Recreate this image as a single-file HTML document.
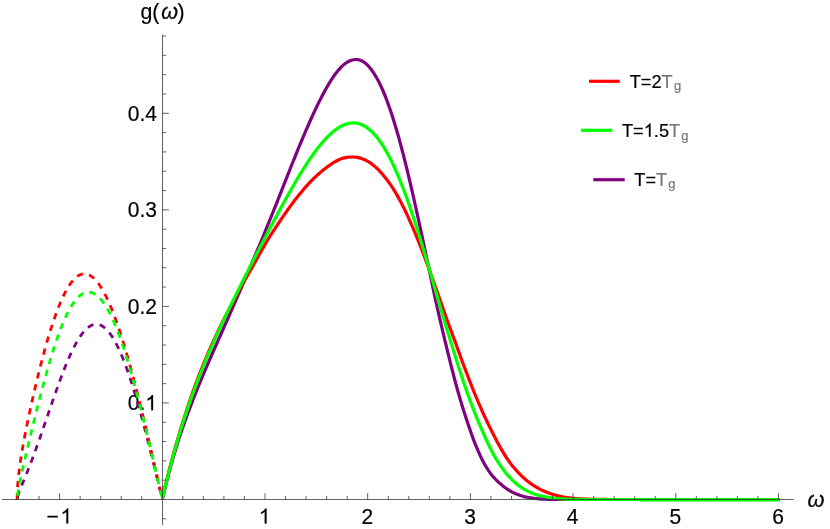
<!DOCTYPE html>
<html><head><meta charset="utf-8"><title>g(omega)</title>
<style>html,body{margin:0;padding:0;background:#fff;}svg{display:block;will-change:transform;}</style></head>
<body>
<svg width="830" height="529" viewBox="0 0 830 529">
<rect width="830" height="529" fill="#fff"/>
<g font-family="'Liberation Sans', sans-serif" fill="#000" opacity="0.999" stroke="#000" stroke-width="0.2" style="font-kerning:none">
<text transform="translate(46.60,523.50) scale(1,1.04)" font-size="21" fill="#000" stroke="#000">−</text>
<path transform="translate(60.40,523.50) scale(0.01025,-0.01025)" d="M763,0 L583,0 L583,1147 Q518,1085 412.5,1023 Q307,961 223,930 L223,1104 Q374,1175 487,1276 Q600,1377 647,1472 L763,1472 Z" fill="#000" stroke="#000" stroke-width="19.5"/>
<path transform="translate(258.76,523.50) scale(0.01025,-0.01025)" d="M763,0 L583,0 L583,1147 Q518,1085 412.5,1023 Q307,961 223,930 L223,1104 Q374,1175 487,1276 Q600,1377 647,1472 L763,1472 Z" fill="#000" stroke="#000" stroke-width="19.5"/>
<text transform="translate(361.46,523.50) scale(1,1.04)" font-size="21" fill="#000" stroke="#000">2</text>
<text transform="translate(464.16,523.50) scale(1,1.04)" font-size="21" fill="#000" stroke="#000">3</text>
<text transform="translate(566.86,523.50) scale(1,1.04)" font-size="21" fill="#000" stroke="#000">4</text>
<text transform="translate(669.56,523.50) scale(1,1.04)" font-size="21" fill="#000" stroke="#000">5</text>
<text transform="translate(772.26,523.50) scale(1,1.04)" font-size="21" fill="#000" stroke="#000">6</text>
<text transform="translate(127.71,410.15) scale(1,1.04)" font-size="21" fill="#000" stroke="#000">0.</text><path transform="translate(145.22,410.15) scale(0.01025,-0.01025)" d="M763,0 L583,0 L583,1147 Q518,1085 412.5,1023 Q307,961 223,930 L223,1104 Q374,1175 487,1276 Q600,1377 647,1472 L763,1472 Z" fill="#000" stroke="#000" stroke-width="19.5"/>
<text transform="translate(127.71,313.60) scale(1,1.04)" font-size="21" fill="#000" stroke="#000">0.2</text>
<text transform="translate(127.71,217.05) scale(1,1.04)" font-size="21" fill="#000" stroke="#000">0.3</text>
<text transform="translate(127.71,120.50) scale(1,1.04)" font-size="21" fill="#000" stroke="#000">0.4</text>
<text transform="translate(140.40,18.60) scale(1,1.04)" font-size="21.3" text-anchor="start">g(</text>
<text transform="translate(161.20,18.90) scale(1,1.04)" font-size="21.6" text-anchor="start" font-style="italic">ω</text>
<text transform="translate(177.60,18.60) scale(1,1.04)" font-size="21.3" text-anchor="start">)</text>
<text transform="translate(807.40,507.40) scale(1,1.04)" font-size="21.8" text-anchor="start" font-style="italic">ω</text>
<path d="M589.0,81.3 H619.8" stroke="#ff0000" stroke-width="3.2"/>
<text transform="translate(629.70,87.50) scale(1,1.04)" font-size="18.2" fill="#000" stroke="#000">T=2</text>
<text transform="translate(661.57,87.50) scale(1,1.04)" font-size="18.2" fill="#777" stroke="#777">T</text>
<text transform="translate(673.89,90.30) scale(1,1.04)" font-size="13" fill="#777" stroke="#777">g</text>
<path d="M581.1,130.3 H612.3" stroke="#00ff00" stroke-width="3.2"/>
<text transform="translate(622.00,136.70) scale(1,1.04)" font-size="18.2" fill="#000" stroke="#000">T=</text><path transform="translate(643.75,136.70) scale(0.00889,-0.00889)" d="M763,0 L583,0 L583,1147 Q518,1085 412.5,1023 Q307,961 223,930 L223,1104 Q374,1175 487,1276 Q600,1377 647,1472 L763,1472 Z" fill="#000" stroke="#000" stroke-width="22.5"/><text transform="translate(653.87,136.70) scale(1,1.04)" font-size="18.2" fill="#000" stroke="#000">.5</text>
<text transform="translate(669.05,136.70) scale(1,1.04)" font-size="18.2" fill="#777" stroke="#777">T</text>
<text transform="translate(681.36,139.50) scale(1,1.04)" font-size="13" fill="#777" stroke="#777">g</text>
<path d="M593.3,179.7 H624.7" stroke="#800080" stroke-width="3.2"/>
<text transform="translate(634.30,185.50) scale(1,1.04)" font-size="18.2" fill="#000" stroke="#000">T=</text>
<text transform="translate(656.05,185.50) scale(1,1.04)" font-size="18.2" fill="#777" stroke="#777">T</text>
<text transform="translate(668.36,188.30) scale(1,1.04)" font-size="13" fill="#777" stroke="#777">g</text>
</g>
<path d="M17.06,499.50 L17.35,497.70 L17.64,496.55 L17.93,495.56 L18.22,494.64 L18.52,493.78 L18.81,492.95 L19.10,492.15 L19.39,491.37 L19.68,490.61 L19.97,489.85 L20.26,489.11 L20.55,488.38 L20.84,487.65 L21.14,486.92 L21.43,486.21 L21.72,485.49 L22.01,484.78 L22.30,484.07 L22.59,483.36 L22.88,482.65 L23.17,481.94 L23.46,481.23 L23.75,480.52 L24.05,479.81 L24.34,479.10 L24.63,478.39 L24.92,477.67 L25.21,476.96 L25.50,476.24 L25.79,475.53 L26.08,474.81 L26.37,474.09 L26.67,473.36 L26.96,472.64 L27.25,471.91 L27.54,471.18 L27.83,470.45 L28.12,469.71 L28.41,468.98 L28.70,468.24 L28.99,467.50 L29.28,466.75 L29.58,466.00 L29.87,465.26 L30.16,464.50 L30.45,463.75 L30.74,462.99 L31.03,462.23 L31.32,461.47 L31.61,460.71 L31.90,459.94 L32.20,459.17 L32.49,458.40 L32.78,457.62 L33.07,456.84 L33.36,456.06 L33.65,455.28 L33.94,454.50 L34.23,453.71 L34.52,452.92 L34.82,452.13 L35.11,451.33 L35.40,450.54 L35.69,449.74 L35.98,448.93 L36.27,448.13 L36.56,447.33 L36.85,446.52 L37.14,445.71 L37.43,444.90 L37.73,444.08 L38.02,443.27 L38.31,442.45 L38.60,441.63 L38.89,440.81 L39.18,439.98 L39.47,439.16 L39.76,438.33 L40.05,437.50 L40.35,436.67 L40.64,435.84 L40.93,435.01 L41.22,434.17 L41.51,433.34 L41.80,432.50 L42.09,431.66 L42.38,430.82 L42.67,429.98 L42.96,429.14 L43.26,428.30 L43.55,427.45 L43.84,426.61 L44.13,425.76 L44.42,424.92 L44.71,424.07 L45.00,423.22 L45.29,422.37 L45.58,421.53 L45.88,420.68 L46.17,419.83 L46.46,418.98 L46.75,418.13 L47.04,417.28 L47.33,416.43 L47.62,415.58 L47.91,414.73 L48.20,413.87 L48.49,413.02 L48.79,412.17 L49.08,411.32 L49.37,410.47 L49.66,409.63 L49.95,408.78 L50.24,407.93 L50.53,407.08 L50.82,406.23 L51.11,405.39 L51.41,404.54 L51.70,403.70 L51.99,402.86 L52.28,402.01 L52.57,401.17 L52.86,400.33 L53.15,399.49 L53.44,398.66 L53.73,397.82 L54.03,396.99 L54.32,396.15 L54.61,395.32 L54.90,394.49 L55.19,393.66 L55.48,392.84 L55.77,392.01 L56.06,391.19 L56.35,390.37 L56.64,389.55 L56.94,388.73 L57.23,387.92 L57.52,387.11 L57.81,386.30 L58.10,385.49 L58.39,384.69 L58.68,383.89 L58.97,383.09 L59.26,382.29 L59.56,381.50 L59.85,380.71 L60.14,379.92 L60.43,379.14 L60.72,378.35 L61.01,377.58 L61.30,376.80 L61.59,376.03 L61.88,375.26 L62.17,374.50 L62.47,373.73 L62.76,372.98 L63.05,372.22 L63.34,371.47 L63.63,370.72 L63.92,369.98 L64.21,369.24 L64.50,368.51 L64.79,367.78 L65.09,367.05 L65.38,366.33 L65.67,365.61 L65.96,364.89 L66.25,364.18 L66.54,363.48 L66.83,362.78 L67.12,362.08 L67.41,361.39 L67.70,360.70 L68.00,360.02 L68.29,359.34 L68.58,358.67 L68.87,358.00 L69.16,357.34 L69.45,356.68 L69.74,356.03 L70.03,355.38 L70.32,354.74 L70.62,354.10 L70.91,353.47 L71.20,352.85 L71.49,352.22 L71.78,351.61 L72.07,351.00 L72.36,350.40 L72.65,349.80 L72.94,349.21 L73.24,348.62 L73.53,348.04 L73.82,347.46 L74.11,346.89 L74.40,346.33 L74.69,345.77 L74.98,345.22 L75.27,344.68 L75.56,344.14 L75.85,343.61 L76.15,343.08 L76.44,342.56 L76.73,342.05 L77.02,341.54 L77.31,341.04 L77.60,340.55 L77.89,340.06 L78.18,339.58 L78.47,339.11 L78.77,338.64 L79.06,338.18 L79.35,337.73 L79.64,337.28 L79.93,336.84 L80.22,336.41 L80.51,335.99 L80.80,335.57 L81.09,335.16 L81.38,334.75 L81.68,334.36 L81.97,333.97 L82.26,333.58 L82.55,333.21 L82.84,332.84 L83.13,332.48 L83.42,332.12 L83.71,331.78 L84.00,331.44 L84.30,331.11 L84.59,330.79 L84.88,330.47 L85.17,330.16 L85.46,329.86 L85.75,329.57 L86.04,329.28 L86.33,329.00 L86.62,328.73 L86.92,328.47 L87.21,328.22 L87.50,327.97 L87.79,327.73 L88.08,327.50 L88.37,327.28 L88.66,327.06 L88.95,326.85 L89.24,326.65 L89.53,326.46 L89.83,326.28 L90.12,326.10 L90.41,325.93 L90.70,325.77 L90.99,325.62 L91.28,325.48 L91.57,325.34 L91.86,325.22 L92.15,325.10 L92.45,324.99 L92.74,324.88 L93.03,324.79 L93.32,324.70 L93.61,324.62 L93.90,324.55 L94.19,324.49 L94.48,324.44 L94.77,324.39 L95.06,324.36 L95.36,324.33 L95.65,324.31 L95.94,324.30 L96.23,324.29" fill="none" stroke="#800080" stroke-width="2.75" stroke-dasharray="6.3 6.0" stroke-dashoffset="-2.50"/>
<path d="M162.30,499.50 L162.01,498.29 L161.72,497.08 L161.43,495.88 L161.14,494.67 L160.84,493.46 L160.55,492.25 L160.26,491.05 L159.97,489.84 L159.68,488.64 L159.39,487.43 L159.10,486.23 L158.81,485.02 L158.52,483.82 L158.23,482.62 L157.93,481.41 L157.64,480.21 L157.35,479.01 L157.06,477.81 L156.77,476.61 L156.48,475.42 L156.19,474.22 L155.90,473.03 L155.61,471.83 L155.31,470.64 L155.02,469.45 L154.73,468.26 L154.44,467.07 L154.15,465.88 L153.86,464.70 L153.57,463.52 L153.28,462.33 L152.99,461.15 L152.69,459.98 L152.40,458.80 L152.11,457.62 L151.82,456.45 L151.53,455.28 L151.24,454.11 L150.95,452.95 L150.66,451.78 L150.37,450.62 L150.08,449.46 L149.78,448.30 L149.49,447.15 L149.20,445.99 L148.91,444.84 L148.62,443.70 L148.33,442.55 L148.04,441.41 L147.75,440.27 L147.46,439.13 L147.16,438.00 L146.87,436.87 L146.58,435.74 L146.29,434.61 L146.00,433.49 L145.71,432.37 L145.42,431.26 L145.13,430.14 L144.84,429.03 L144.55,427.93 L144.25,426.83 L143.96,425.73 L143.67,424.63 L143.38,423.54 L143.09,422.45 L142.80,421.36 L142.51,420.28 L142.22,419.20 L141.93,418.13 L141.63,417.06 L141.34,415.99 L141.05,414.93 L140.76,413.87 L140.47,412.82 L140.18,411.77 L139.89,410.72 L139.60,409.68 L139.31,408.64 L139.02,407.61 L138.72,406.58 L138.43,405.55 L138.14,404.53 L137.85,403.51 L137.56,402.50 L137.27,401.50 L136.98,400.49 L136.69,399.50 L136.40,398.50 L136.10,397.51 L135.81,396.53 L135.52,395.55 L135.23,394.58 L134.94,393.61 L134.65,392.65 L134.36,391.69 L134.07,390.73 L133.78,389.79 L133.48,388.84 L133.19,387.90 L132.90,386.97 L132.61,386.04 L132.32,385.12 L132.03,384.21 L131.74,383.30 L131.45,382.39 L131.16,381.49 L130.87,380.60 L130.57,379.71 L130.28,378.82 L129.99,377.95 L129.70,377.08 L129.41,376.21 L129.12,375.35 L128.83,374.50 L128.54,373.65 L128.25,372.81 L127.95,371.97 L127.66,371.14 L127.37,370.32 L127.08,369.50 L126.79,368.69 L126.50,367.88 L126.21,367.08 L125.92,366.29 L125.63,365.51 L125.34,364.73 L125.04,363.95 L124.75,363.19 L124.46,362.43 L124.17,361.67 L123.88,360.92 L123.59,360.18 L123.30,359.45 L123.01,358.72 L122.72,358.00 L122.42,357.29 L122.13,356.58 L121.84,355.88 L121.55,355.19 L121.26,354.50 L120.97,353.83 L120.68,353.15 L120.39,352.49 L120.10,351.83 L119.81,351.18 L119.51,350.54 L119.22,349.90 L118.93,349.27 L118.64,348.65 L118.35,348.03 L118.06,347.42 L117.77,346.82 L117.48,346.23 L117.19,345.65 L116.89,345.07 L116.60,344.50 L116.31,343.93 L116.02,343.38 L115.73,342.83 L115.44,342.29 L115.15,341.76 L114.86,341.23 L114.57,340.71 L114.27,340.20 L113.98,339.70 L113.69,339.20 L113.40,338.72 L113.11,338.24 L112.82,337.77 L112.53,337.30 L112.24,336.85 L111.95,336.40 L111.66,335.96 L111.36,335.53 L111.07,335.10 L110.78,334.69 L110.49,334.28 L110.20,333.88 L109.91,333.48 L109.62,333.10 L109.33,332.72 L109.04,332.35 L108.74,331.99 L108.45,331.64 L108.16,331.30 L107.87,330.96 L107.58,330.63 L107.29,330.31 L107.00,330.00 L106.71,329.70 L106.42,329.40 L106.13,329.12 L105.83,328.84 L105.54,328.57 L105.25,328.30 L104.96,328.05 L104.67,327.80 L104.38,327.57 L104.09,327.34 L103.80,327.12 L103.51,326.90 L103.21,326.70 L102.92,326.50 L102.63,326.32 L102.34,326.14 L102.05,325.96 L101.76,325.80 L101.47,325.65 L101.18,325.50 L100.89,325.36 L100.59,325.23 L100.30,325.11 L100.01,325.00 L99.72,324.89 L99.43,324.80 L99.14,324.71 L98.85,324.63 L98.56,324.56 L98.27,324.50 L97.98,324.44 L97.68,324.40 L97.39,324.36 L97.10,324.33 L96.81,324.31 L96.52,324.30 L96.23,324.29" fill="none" stroke="#800080" stroke-width="2.75" stroke-dasharray="6.416 6.110" stroke-dashoffset="-6.65"/>
<path d="M17.06,499.50 L17.35,490.00 L17.64,485.54 L17.93,481.97 L18.22,478.88 L18.52,476.09 L18.81,473.52 L19.10,471.11 L19.39,468.82 L19.68,466.64 L19.97,464.54 L20.26,462.51 L20.55,460.55 L20.84,458.64 L21.14,456.78 L21.43,454.97 L21.72,453.18 L22.01,451.44 L22.30,449.72 L22.59,448.04 L22.88,446.37 L23.17,444.74 L23.46,443.12 L23.75,441.52 L24.05,439.95 L24.34,438.39 L24.63,436.84 L24.92,435.31 L25.21,433.80 L25.50,432.30 L25.79,430.81 L26.08,429.34 L26.37,427.88 L26.67,426.43 L26.96,424.98 L27.25,423.55 L27.54,422.13 L27.83,420.72 L28.12,419.32 L28.41,417.92 L28.70,416.54 L28.99,415.16 L29.28,413.79 L29.58,412.43 L29.87,411.08 L30.16,409.73 L30.45,408.39 L30.74,407.06 L31.03,405.73 L31.32,404.41 L31.61,403.10 L31.90,401.79 L32.20,400.49 L32.49,399.20 L32.78,397.91 L33.07,396.63 L33.36,395.35 L33.65,394.08 L33.94,392.82 L34.23,391.56 L34.52,390.30 L34.82,389.06 L35.11,387.81 L35.40,386.58 L35.69,385.35 L35.98,384.12 L36.27,382.90 L36.56,381.69 L36.85,380.48 L37.14,379.28 L37.43,378.08 L37.73,376.89 L38.02,375.70 L38.31,374.52 L38.60,373.35 L38.89,372.18 L39.18,371.01 L39.47,369.85 L39.76,368.70 L40.05,367.55 L40.35,366.41 L40.64,365.27 L40.93,364.14 L41.22,363.01 L41.51,361.89 L41.80,360.78 L42.09,359.67 L42.38,358.56 L42.67,357.47 L42.96,356.37 L43.26,355.29 L43.55,354.21 L43.84,353.13 L44.13,352.06 L44.42,351.00 L44.71,349.94 L45.00,348.89 L45.29,347.85 L45.58,346.81 L45.88,345.77 L46.17,344.75 L46.46,343.73 L46.75,342.71 L47.04,341.70 L47.33,340.70 L47.62,339.70 L47.91,338.71 L48.20,337.73 L48.49,336.75 L48.79,335.78 L49.08,334.81 L49.37,333.86 L49.66,332.90 L49.95,331.96 L50.24,331.02 L50.53,330.09 L50.82,329.16 L51.11,328.24 L51.41,327.33 L51.70,326.42 L51.99,325.52 L52.28,324.63 L52.57,323.74 L52.86,322.87 L53.15,321.99 L53.44,321.13 L53.73,320.27 L54.03,319.42 L54.32,318.57 L54.61,317.74 L54.90,316.91 L55.19,316.08 L55.48,315.27 L55.77,314.46 L56.06,313.66 L56.35,312.86 L56.64,312.08 L56.94,311.30 L57.23,310.52 L57.52,309.76 L57.81,309.00 L58.10,308.25 L58.39,307.51 L58.68,306.77 L58.97,306.05 L59.26,305.33 L59.56,304.61 L59.85,303.91 L60.14,303.21 L60.43,302.52 L60.72,301.84 L61.01,301.17 L61.30,300.50 L61.59,299.84 L61.88,299.19 L62.17,298.55 L62.47,297.91 L62.76,297.28 L63.05,296.66 L63.34,296.05 L63.63,295.45 L63.92,294.85 L64.21,294.27 L64.50,293.69 L64.79,293.11 L65.09,292.55 L65.38,291.99 L65.67,291.45 L65.96,290.91 L66.25,290.38 L66.54,289.85 L66.83,289.34 L67.12,288.83 L67.41,288.33 L67.70,287.84 L68.00,287.36 L68.29,286.89 L68.58,286.42 L68.87,285.97 L69.16,285.52 L69.45,285.08 L69.74,284.64 L70.03,284.22 L70.32,283.80 L70.62,283.40 L70.91,283.00 L71.20,282.61 L71.49,282.23 L71.78,281.85 L72.07,281.49 L72.36,281.13 L72.65,280.78 L72.94,280.44 L73.24,280.11 L73.53,279.79 L73.82,279.48 L74.11,279.17 L74.40,278.87 L74.69,278.58 L74.98,278.30 L75.27,278.03 L75.56,277.77 L75.85,277.52 L76.15,277.27 L76.44,277.03 L76.73,276.80 L77.02,276.58 L77.31,276.37 L77.60,276.17 L77.89,275.97 L78.18,275.79 L78.47,275.61 L78.77,275.44 L79.06,275.28 L79.35,275.13 L79.64,274.99 L79.93,274.85 L80.22,274.73 L80.51,274.61 L80.80,274.50 L81.09,274.40 L81.38,274.31 L81.68,274.22 L81.97,274.15 L82.26,274.08 L82.55,274.02 L82.84,273.98 L83.13,273.93 L83.42,273.90 L83.71,273.88 L84.00,273.86 L84.30,273.86" fill="none" stroke="#ff0000" stroke-width="2.75" stroke-dasharray="6.3 6.0" stroke-dashoffset="0.00"/>
<path d="M162.30,499.50 L162.01,498.21 L161.72,496.93 L161.43,495.64 L161.14,494.36 L160.84,493.07 L160.55,491.79 L160.26,490.50 L159.97,489.22 L159.68,487.93 L159.39,486.65 L159.10,485.37 L158.81,484.08 L158.52,482.80 L158.23,481.52 L157.93,480.24 L157.64,478.96 L157.35,477.67 L157.06,476.39 L156.77,475.12 L156.48,473.84 L156.19,472.56 L155.90,471.28 L155.61,470.01 L155.31,468.73 L155.02,467.46 L154.73,466.18 L154.44,464.91 L154.15,463.64 L153.86,462.37 L153.57,461.10 L153.28,459.83 L152.99,458.57 L152.69,457.30 L152.40,456.04 L152.11,454.77 L151.82,453.51 L151.53,452.25 L151.24,450.99 L150.95,449.73 L150.66,448.48 L150.37,447.22 L150.08,445.97 L149.78,444.72 L149.49,443.47 L149.20,442.22 L148.91,440.97 L148.62,439.73 L148.33,438.49 L148.04,437.24 L147.75,436.01 L147.46,434.77 L147.16,433.53 L146.87,432.30 L146.58,431.07 L146.29,429.84 L146.00,428.61 L145.71,427.39 L145.42,426.16 L145.13,424.94 L144.84,423.72 L144.55,422.51 L144.25,421.29 L143.96,420.08 L143.67,418.87 L143.38,417.66 L143.09,416.46 L142.80,415.26 L142.51,414.06 L142.22,412.86 L141.93,411.67 L141.63,410.48 L141.34,409.29 L141.05,408.10 L140.76,406.92 L140.47,405.74 L140.18,404.56 L139.89,403.39 L139.60,402.21 L139.31,401.04 L139.02,399.88 L138.72,398.72 L138.43,397.56 L138.14,396.40 L137.85,395.25 L137.56,394.09 L137.27,392.95 L136.98,391.80 L136.69,390.66 L136.40,389.53 L136.10,388.39 L135.81,387.26 L135.52,386.13 L135.23,385.01 L134.94,383.89 L134.65,382.77 L134.36,381.66 L134.07,380.55 L133.78,379.45 L133.48,378.34 L133.19,377.25 L132.90,376.15 L132.61,375.06 L132.32,373.97 L132.03,372.89 L131.74,371.81 L131.45,370.74 L131.16,369.67 L130.87,368.60 L130.57,367.54 L130.28,366.48 L129.99,365.42 L129.70,364.37 L129.41,363.33 L129.12,362.29 L128.83,361.25 L128.54,360.22 L128.25,359.19 L127.95,358.16 L127.66,357.14 L127.37,356.13 L127.08,355.12 L126.79,354.11 L126.50,353.11 L126.21,352.11 L125.92,351.12 L125.63,350.13 L125.34,349.15 L125.04,348.17 L124.75,347.20 L124.46,346.23 L124.17,345.27 L123.88,344.31 L123.59,343.35 L123.30,342.40 L123.01,341.46 L122.72,340.52 L122.42,339.59 L122.13,338.66 L121.84,337.74 L121.55,336.82 L121.26,335.91 L120.97,335.00 L120.68,334.10 L120.39,333.20 L120.10,332.31 L119.81,331.43 L119.51,330.54 L119.22,329.67 L118.93,328.80 L118.64,327.94 L118.35,327.08 L118.06,326.23 L117.77,325.38 L117.48,324.54 L117.19,323.70 L116.89,322.87 L116.60,322.05 L116.31,321.23 L116.02,320.42 L115.73,319.61 L115.44,318.81 L115.15,318.02 L114.86,317.23 L114.57,316.45 L114.27,315.67 L113.98,314.90 L113.69,314.14 L113.40,313.38 L113.11,312.63 L112.82,311.89 L112.53,311.15 L112.24,310.42 L111.95,309.69 L111.66,308.97 L111.36,308.26 L111.07,307.55 L110.78,306.85 L110.49,306.16 L110.20,305.47 L109.91,304.79 L109.62,304.12 L109.33,303.45 L109.04,302.79 L108.74,302.13 L108.45,301.49 L108.16,300.85 L107.87,300.21 L107.58,299.59 L107.29,298.97 L107.00,298.35 L106.71,297.75 L106.42,297.15 L106.13,296.55 L105.83,295.97 L105.54,295.39 L105.25,294.82 L104.96,294.26 L104.67,293.70 L104.38,293.15 L104.09,292.61 L103.80,292.07 L103.51,291.54 L103.21,291.02 L102.92,290.51 L102.63,290.00 L102.34,289.50 L102.05,289.01 L101.76,288.53 L101.47,288.05 L101.18,287.58 L100.89,287.12 L100.59,286.66 L100.30,286.22 L100.01,285.78 L99.72,285.35 L99.43,284.92 L99.14,284.51 L98.85,284.10 L98.56,283.70 L98.27,283.30 L97.98,282.92 L97.68,282.54 L97.39,282.17 L97.10,281.81 L96.81,281.45 L96.52,281.10 L96.23,280.76 L95.94,280.43 L95.65,280.11 L95.36,279.80 L95.06,279.49 L94.77,279.19 L94.48,278.90 L94.19,278.61 L93.90,278.34 L93.61,278.07 L93.32,277.81 L93.03,277.56 L92.74,277.32 L92.45,277.08 L92.15,276.86 L91.86,276.64 L91.57,276.43 L91.28,276.22 L90.99,276.03 L90.70,275.84 L90.41,275.67 L90.12,275.50 L89.83,275.33 L89.53,275.18 L89.24,275.04 L88.95,274.90 L88.66,274.77 L88.37,274.65 L88.08,274.54 L87.79,274.44 L87.50,274.34 L87.21,274.26 L86.92,274.18 L86.62,274.11 L86.33,274.05 L86.04,274.00 L85.75,273.95 L85.46,273.92 L85.17,273.89 L84.88,273.87 L84.59,273.86 L84.30,273.86" fill="none" stroke="#ff0000" stroke-width="2.75" stroke-dasharray="6.430 6.124" stroke-dashoffset="-6.65"/>
<path d="M17.06,499.50 L17.35,496.56 L17.64,494.47 L17.93,492.59 L18.22,490.84 L18.52,489.18 L18.81,487.58 L19.10,486.03 L19.39,484.52 L19.68,483.04 L19.97,481.59 L20.26,480.16 L20.55,478.75 L20.84,477.36 L21.14,475.98 L21.43,474.62 L21.72,473.27 L22.01,471.93 L22.30,470.60 L22.59,469.28 L22.88,467.97 L23.17,466.66 L23.46,465.37 L23.75,464.08 L24.05,462.79 L24.34,461.51 L24.63,460.24 L24.92,458.97 L25.21,457.70 L25.50,456.44 L25.79,455.19 L26.08,453.94 L26.37,452.69 L26.67,451.44 L26.96,450.20 L27.25,448.96 L27.54,447.73 L27.83,446.49 L28.12,445.26 L28.41,444.04 L28.70,442.81 L28.99,441.59 L29.28,440.37 L29.58,439.16 L29.87,437.94 L30.16,436.73 L30.45,435.52 L30.74,434.32 L31.03,433.11 L31.32,431.91 L31.61,430.71 L31.90,429.51 L32.20,428.32 L32.49,427.13 L32.78,425.94 L33.07,424.75 L33.36,423.56 L33.65,422.38 L33.94,421.20 L34.23,420.02 L34.52,418.85 L34.82,417.67 L35.11,416.50 L35.40,415.33 L35.69,414.17 L35.98,413.01 L36.27,411.85 L36.56,410.69 L36.85,409.53 L37.14,408.38 L37.43,407.23 L37.73,406.08 L38.02,404.94 L38.31,403.80 L38.60,402.66 L38.89,401.53 L39.18,400.39 L39.47,399.26 L39.76,398.14 L40.05,397.02 L40.35,395.90 L40.64,394.78 L40.93,393.67 L41.22,392.56 L41.51,391.45 L41.80,390.35 L42.09,389.25 L42.38,388.15 L42.67,387.06 L42.96,385.97 L43.26,384.89 L43.55,383.81 L43.84,382.73 L44.13,381.66 L44.42,380.59 L44.71,379.52 L45.00,378.46 L45.29,377.41 L45.58,376.35 L45.88,375.30 L46.17,374.26 L46.46,373.22 L46.75,372.18 L47.04,371.15 L47.33,370.12 L47.62,369.10 L47.91,368.08 L48.20,367.07 L48.49,366.06 L48.79,365.06 L49.08,364.06 L49.37,363.06 L49.66,362.07 L49.95,361.09 L50.24,360.11 L50.53,359.14 L50.82,358.17 L51.11,357.20 L51.41,356.24 L51.70,355.29 L51.99,354.34 L52.28,353.40 L52.57,352.46 L52.86,351.53 L53.15,350.60 L53.44,349.68 L53.73,348.77 L54.03,347.86 L54.32,346.95 L54.61,346.05 L54.90,345.16 L55.19,344.28 L55.48,343.39 L55.77,342.52 L56.06,341.65 L56.35,340.79 L56.64,339.93 L56.94,339.08 L57.23,338.24 L57.52,337.40 L57.81,336.57 L58.10,335.74 L58.39,334.92 L58.68,334.11 L58.97,333.31 L59.26,332.51 L59.56,331.71 L59.85,330.93 L60.14,330.15 L60.43,329.38 L60.72,328.61 L61.01,327.86 L61.30,327.11 L61.59,326.37 L61.88,325.64 L62.17,324.91 L62.47,324.20 L62.76,323.49 L63.05,322.79 L63.34,322.10 L63.63,321.41 L63.92,320.73 L64.21,320.07 L64.50,319.41 L64.79,318.75 L65.09,318.11 L65.38,317.47 L65.67,316.84 L65.96,316.22 L66.25,315.61 L66.54,315.01 L66.83,314.41 L67.12,313.82 L67.41,313.24 L67.70,312.66 L68.00,312.10 L68.29,311.54 L68.58,310.99 L68.87,310.45 L69.16,309.91 L69.45,309.39 L69.74,308.87 L70.03,308.36 L70.32,307.85 L70.62,307.36 L70.91,306.87 L71.20,306.39 L71.49,305.92 L71.78,305.45 L72.07,304.99 L72.36,304.54 L72.65,304.10 L72.94,303.67 L73.24,303.24 L73.53,302.82 L73.82,302.41 L74.11,302.00 L74.40,301.61 L74.69,301.22 L74.98,300.83 L75.27,300.46 L75.56,300.09 L75.85,299.74 L76.15,299.39 L76.44,299.05 L76.73,298.72 L77.02,298.39 L77.31,298.08 L77.60,297.77 L77.89,297.47 L78.18,297.18 L78.47,296.90 L78.77,296.63 L79.06,296.37 L79.35,296.11 L79.64,295.86 L79.93,295.62 L80.22,295.39 L80.51,295.17 L80.80,294.95 L81.09,294.75 L81.38,294.55 L81.68,294.36 L81.97,294.18 L82.26,294.00 L82.55,293.84 L82.84,293.68 L83.13,293.53 L83.42,293.39 L83.71,293.26 L84.00,293.13 L84.30,293.01 L84.59,292.90 L84.88,292.80 L85.17,292.71 L85.46,292.62 L85.75,292.55 L86.04,292.47 L86.33,292.41 L86.62,292.36 L86.92,292.31 L87.21,292.27 L87.50,292.24 L87.79,292.22 L88.08,292.20 L88.37,292.19 L88.66,292.19" fill="none" stroke="#00ff00" stroke-width="2.75" stroke-dasharray="6.3 6.0" stroke-dashoffset="-3.90"/>
<path d="M162.30,499.50 L162.01,498.23 L161.72,496.97 L161.43,495.70 L161.14,494.43 L160.84,493.16 L160.55,491.90 L160.26,490.63 L159.97,489.36 L159.68,488.10 L159.39,486.83 L159.10,485.57 L158.81,484.30 L158.52,483.04 L158.23,481.78 L157.93,480.51 L157.64,479.25 L157.35,477.99 L157.06,476.73 L156.77,475.47 L156.48,474.21 L156.19,472.95 L155.90,471.70 L155.61,470.44 L155.31,469.18 L155.02,467.93 L154.73,466.68 L154.44,465.42 L154.15,464.17 L153.86,462.92 L153.57,461.68 L153.28,460.43 L152.99,459.18 L152.69,457.94 L152.40,456.70 L152.11,455.45 L151.82,454.21 L151.53,452.98 L151.24,451.74 L150.95,450.50 L150.66,449.27 L150.37,448.04 L150.08,446.81 L149.78,445.58 L149.49,444.36 L149.20,443.13 L148.91,441.91 L148.62,440.69 L148.33,439.47 L148.04,438.26 L147.75,437.04 L147.46,435.83 L147.16,434.62 L146.87,433.41 L146.58,432.21 L146.29,431.01 L146.00,429.81 L145.71,428.61 L145.42,427.41 L145.13,426.22 L144.84,425.03 L144.55,423.84 L144.25,422.66 L143.96,421.48 L143.67,420.30 L143.38,419.12 L143.09,417.95 L142.80,416.78 L142.51,415.61 L142.22,414.45 L141.93,413.28 L141.63,412.12 L141.34,410.97 L141.05,409.82 L140.76,408.67 L140.47,407.52 L140.18,406.38 L139.89,405.24 L139.60,404.10 L139.31,402.97 L139.02,401.84 L138.72,400.71 L138.43,399.59 L138.14,398.47 L137.85,397.35 L137.56,396.24 L137.27,395.13 L136.98,394.03 L136.69,392.93 L136.40,391.83 L136.10,390.74 L135.81,389.65 L135.52,388.56 L135.23,387.48 L134.94,386.41 L134.65,385.33 L134.36,384.26 L134.07,383.20 L133.78,382.14 L133.48,381.08 L133.19,380.03 L132.90,378.98 L132.61,377.94 L132.32,376.90 L132.03,375.86 L131.74,374.83 L131.45,373.81 L131.16,372.78 L130.87,371.77 L130.57,370.75 L130.28,369.75 L129.99,368.74 L129.70,367.75 L129.41,366.75 L129.12,365.76 L128.83,364.78 L128.54,363.80 L128.25,362.83 L127.95,361.86 L127.66,360.89 L127.37,359.93 L127.08,358.98 L126.79,358.03 L126.50,357.09 L126.21,356.15 L125.92,355.22 L125.63,354.29 L125.34,353.37 L125.04,352.45 L124.75,351.54 L124.46,350.63 L124.17,349.73 L123.88,348.84 L123.59,347.95 L123.30,347.06 L123.01,346.18 L122.72,345.31 L122.42,344.44 L122.13,343.58 L121.84,342.73 L121.55,341.88 L121.26,341.03 L120.97,340.19 L120.68,339.36 L120.39,338.53 L120.10,337.71 L119.81,336.90 L119.51,336.09 L119.22,335.29 L118.93,334.50 L118.64,333.72 L118.35,332.94 L118.06,332.17 L117.77,331.41 L117.48,330.65 L117.19,329.90 L116.89,329.16 L116.60,328.43 L116.31,327.70 L116.02,326.98 L115.73,326.27 L115.44,325.56 L115.15,324.86 L114.86,324.17 L114.57,323.48 L114.27,322.81 L113.98,322.13 L113.69,321.47 L113.40,320.81 L113.11,320.16 L112.82,319.51 L112.53,318.87 L112.24,318.24 L111.95,317.62 L111.66,317.00 L111.36,316.39 L111.07,315.78 L110.78,315.19 L110.49,314.60 L110.20,314.02 L109.91,313.45 L109.62,312.88 L109.33,312.33 L109.04,311.78 L108.74,311.23 L108.45,310.70 L108.16,310.17 L107.87,309.65 L107.58,309.14 L107.29,308.64 L107.00,308.14 L106.71,307.65 L106.42,307.17 L106.13,306.69 L105.83,306.23 L105.54,305.77 L105.25,305.31 L104.96,304.87 L104.67,304.43 L104.38,304.00 L104.09,303.58 L103.80,303.16 L103.51,302.75 L103.21,302.35 L102.92,301.96 L102.63,301.57 L102.34,301.20 L102.05,300.82 L101.76,300.46 L101.47,300.10 L101.18,299.75 L100.89,299.41 L100.59,299.08 L100.30,298.75 L100.01,298.43 L99.72,298.11 L99.43,297.81 L99.14,297.51 L98.85,297.22 L98.56,296.94 L98.27,296.67 L97.98,296.40 L97.68,296.15 L97.39,295.90 L97.10,295.66 L96.81,295.43 L96.52,295.20 L96.23,294.98 L95.94,294.78 L95.65,294.58 L95.36,294.38 L95.06,294.20 L94.77,294.02 L94.48,293.86 L94.19,293.70 L93.90,293.54 L93.61,293.40 L93.32,293.27 L93.03,293.14 L92.74,293.02 L92.45,292.91 L92.15,292.80 L91.86,292.71 L91.57,292.62 L91.28,292.54 L90.99,292.47 L90.70,292.41 L90.41,292.35 L90.12,292.31 L89.83,292.27 L89.53,292.24 L89.24,292.21 L88.95,292.20 L88.66,292.19" fill="none" stroke="#00ff00" stroke-width="2.75" stroke-dasharray="6.469 6.161" stroke-dashoffset="-3.15"/>
<path d="M162.30,499.50 L163.30,495.19 L164.30,490.98 L165.30,486.88 L166.30,482.87 L167.30,478.94 L168.30,475.11 L169.30,471.36 L170.30,467.69 L171.30,464.10 L172.30,460.58 L173.30,457.14 L174.30,453.76 L175.30,450.44 L176.30,447.19 L177.30,443.99 L178.30,440.85 L179.30,437.77 L180.30,434.74 L181.30,431.75 L182.30,428.81 L183.30,425.92 L184.30,423.07 L185.30,420.26 L186.30,417.48 L187.30,414.75 L188.30,412.04 L189.30,409.37 L190.30,406.73 L191.30,404.12 L192.30,401.53 L193.30,398.97 L194.30,396.44 L195.30,393.93 L196.30,391.44 L197.30,388.97 L198.30,386.51 L199.30,384.08 L200.30,381.66 L201.30,379.25 L202.30,376.86 L203.31,374.49 L204.31,372.12 L205.32,369.76 L206.32,367.42 L207.33,365.08 L208.34,362.75 L209.35,360.43 L210.36,358.12 L211.37,355.81 L212.38,353.50 L213.40,351.20 L214.41,348.90 L215.42,346.60 L216.44,344.31 L217.45,342.02 L218.47,339.72 L219.49,337.43 L220.51,335.14 L221.52,332.85 L222.54,330.55 L223.56,328.26 L224.58,325.96 L225.60,323.66 L226.62,321.35 L227.64,319.05 L228.66,316.74 L229.68,314.42 L230.70,312.10 L231.72,309.78 L232.74,307.45 L233.76,305.12 L234.79,302.78 L235.81,300.43 L236.83,298.08 L237.86,295.73 L238.88,293.36 L239.91,291.00 L240.95,288.62 L241.98,286.24 L243.01,283.85 L244.05,281.46 L245.09,279.06 L246.12,276.65 L247.16,274.24 L248.20,271.82 L249.24,269.39 L250.27,266.96 L251.31,264.52 L252.35,262.07 L253.39,259.62 L254.43,257.16 L255.48,254.69 L256.52,252.22 L257.56,249.74 L258.61,247.26 L259.65,244.77 L260.70,242.27 L261.74,239.77 L262.78,237.26 L263.81,234.75 L264.85,232.24 L265.88,229.72 L266.91,227.19 L267.94,224.67 L268.96,222.13 L269.99,219.60 L271.02,217.06 L272.04,214.52 L273.07,211.98 L274.10,209.43 L275.12,206.88 L276.14,204.33 L277.16,201.79 L278.17,199.24 L279.18,196.69 L280.19,194.14 L281.20,191.59 L282.20,189.04 L283.20,186.50 L284.20,183.95 L285.20,181.41 L286.20,178.88 L287.20,176.35 L288.20,173.82 L289.20,171.30 L290.20,168.78 L291.20,166.27 L292.20,163.77 L293.20,161.27 L294.20,158.79 L295.20,156.31 L296.20,153.84 L297.20,151.38 L298.20,148.94 L299.20,146.50 L300.20,144.08 L301.20,141.67 L302.20,139.28 L303.20,136.90 L304.20,134.54 L305.20,132.19 L306.20,129.87 L307.20,127.56 L308.20,125.27 L309.20,123.00 L310.20,120.75 L311.20,118.52 L312.20,116.32 L313.20,114.14 L314.20,111.99 L315.20,109.86 L316.20,107.76 L317.20,105.69 L318.20,103.65 L319.20,101.64 L320.20,99.66 L321.20,97.71 L322.20,95.79 L323.20,93.91 L324.19,92.07 L325.18,90.26 L326.16,88.49 L327.14,86.76 L328.12,85.08 L329.10,83.43 L330.08,81.82 L331.05,80.26 L332.02,78.74 L333.00,77.28 L333.97,75.87 L334.94,74.51 L335.92,73.21 L336.89,71.96 L337.87,70.77 L338.84,69.64 L339.81,68.56 L340.78,67.54 L341.74,66.57 L342.71,65.66 L343.68,64.81 L344.65,64.02 L345.61,63.28 L346.58,62.61 L347.55,62.00 L348.52,61.45 L349.49,60.97 L350.47,60.56 L351.44,60.21 L352.42,59.94 L353.40,59.73 L354.38,59.59 L355.35,59.51 L356.32,59.51 L357.29,59.58 L358.25,59.71 L359.20,59.92 L360.14,60.20 L361.08,60.55 L362.02,60.99 L362.96,61.49 L363.90,62.08 L364.84,62.75 L365.78,63.50 L366.73,64.33 L367.66,65.25 L368.59,66.25 L369.53,67.32 L370.47,68.48 L371.41,69.71 L372.36,71.04 L373.33,72.45 L374.30,73.94 L375.30,75.53 L376.30,77.20 L377.30,78.97 L378.30,80.83 L379.30,82.79 L380.30,84.84 L381.30,86.98 L382.30,89.20 L383.30,91.51 L384.30,93.91 L385.30,96.39 L386.30,98.96 L387.30,101.61 L388.30,104.34 L389.30,107.16 L390.30,110.06 L391.30,113.04 L392.30,116.10 L393.30,119.23 L394.30,122.45 L395.30,125.74 L396.30,129.11 L397.30,132.55 L398.30,136.06 L399.30,139.65 L400.30,143.30 L401.30,147.03 L402.30,150.82 L403.30,154.67 L404.30,158.59 L405.30,162.57 L406.30,166.61 L407.30,170.71 L408.30,174.86 L409.30,179.06 L410.30,183.32 L411.30,187.62 L412.30,191.97 L413.30,196.36 L414.30,200.80 L415.30,205.27 L416.30,209.78 L417.30,214.32 L418.30,218.90 L419.30,223.50 L420.30,228.13 L421.30,232.79 L422.30,237.46 L423.30,242.15 L424.30,246.86 L425.30,251.58 L426.30,256.30 L427.30,261.04 L428.30,265.78 L429.30,270.51 L430.30,275.25 L431.30,279.98 L432.30,284.70 L433.30,289.42 L434.30,294.12 L435.30,298.80 L436.32,303.46 L437.35,308.11 L438.40,312.72 L439.45,317.31 L440.51,321.87 L441.58,326.40 L442.65,330.90 L443.71,335.35 L444.77,339.77 L445.81,344.14 L446.86,348.47 L447.90,352.76 L448.94,356.99 L449.97,361.17 L451.01,365.30 L452.05,369.38 L453.09,373.40 L454.12,377.36 L455.16,381.26 L456.20,385.10 L457.23,388.87 L458.27,392.58 L459.31,396.23 L460.36,399.80 L461.41,403.31 L462.46,406.75 L463.51,410.12 L464.56,413.42 L465.61,416.65 L466.65,419.80 L467.68,422.88 L468.70,425.89 L469.70,428.82 L470.68,431.68 L471.65,434.46 L472.60,437.14 L473.55,439.69 L474.48,442.14 L475.41,444.49 L476.35,446.76 L477.28,448.94 L478.20,451.05 L479.11,453.10 L480.01,455.10 L480.91,457.05 L481.81,458.94 L482.72,460.77 L483.64,462.53 L484.58,464.23 L485.53,465.87 L486.48,467.44 L487.43,468.95 L488.38,470.41 L489.35,471.81 L490.32,473.15 L491.30,474.43 L492.30,475.65 L493.30,476.82 L494.30,477.93 L495.30,479.00 L496.30,480.02 L497.30,480.99 L498.30,481.94 L499.30,482.84 L500.30,483.72 L501.30,484.58 L502.30,485.42 L503.30,486.24 L504.30,487.03 L505.30,487.78 L506.30,488.50 L507.30,489.19 L508.30,489.83 L509.30,490.44 L510.30,491.02 L511.30,491.57 L512.30,492.10 L513.30,492.60 L514.30,493.07 L515.30,493.52 L516.30,493.95 L517.30,494.35 L518.30,494.73 L519.30,495.09 L520.30,495.43 L521.30,495.76 L522.30,496.06 L523.30,496.34 L524.30,496.61 L525.30,496.85 L526.30,497.07 L527.30,497.28 L528.30,497.47 L529.30,497.65 L530.30,497.81 L531.30,497.97 L532.30,498.11 L533.30,498.24 L534.30,498.36 L535.30,498.48 L536.30,498.59 L537.30,498.69 L538.30,498.79 L539.30,498.88 L540.30,498.96 L541.30,499.04 L542.30,499.10 L543.30,499.16 L544.30,499.20 L545.30,499.23 L546.30,499.26 L547.30,499.29 L548.30,499.31 L549.30,499.33 L550.30,499.35 L551.30,499.37 L552.30,499.38 L553.30,499.40 L554.30,499.41 L555.30,499.42 L556.30,499.43 L557.30,499.44 L558.30,499.44 L559.30,499.45 L560.30,499.46 L561.30,499.46 L562.30,499.47 L563.30,499.47 L564.30,499.48 L565.30,499.48 L566.30,499.48 L567.30,499.48 L568.30,499.49 L569.30,499.49 L570.30,499.49 L571.30,499.49 L572.30,499.49 L573.30,499.49 L574.30,499.49 L575.30,499.50 L576.30,499.50 L577.30,499.50 L578.30,499.50 L579.30,499.50 L580.30,499.50 L581.30,499.50 L582.30,499.50 L583.30,499.50 L584.30,499.50 L585.30,499.50 L586.30,499.50 L587.30,499.50 L588.30,499.50 L589.30,499.50 L590.30,499.50 L591.30,499.50 L592.30,499.50 L593.30,499.50 L594.30,499.50 L595.30,499.50 L596.30,499.50 L597.30,499.50 L598.30,499.50 L599.30,499.50 L600.30,499.50 L601.30,499.50 L602.30,499.50 L603.30,499.50 L604.30,499.50 L605.30,499.50 L606.30,499.50 L607.30,499.50 L608.30,499.50 L609.30,499.50 L610.30,499.50 L611.30,499.50 L612.30,499.50 L613.30,499.50 L614.30,499.50 L615.30,499.50 L616.30,499.50 L617.30,499.50 L618.30,499.50 L619.30,499.50 L620.30,499.50 L621.30,499.50 L622.30,499.50 L623.30,499.50 L624.30,499.50 L625.30,499.50 L626.30,499.50 L627.30,499.50 L628.30,499.50 L629.30,499.50 L630.30,499.50 L631.30,499.50 L632.30,499.50 L633.30,499.50 L634.30,499.50 L635.30,499.50 L636.30,499.50 L637.30,499.50 L638.30,499.50 L639.30,499.50 L640.30,499.50 L641.30,499.50 L642.30,499.50 L643.30,499.50 L644.30,499.50 L645.30,499.50 L646.30,499.50 L647.30,499.50 L648.30,499.50 L649.30,499.50 L650.30,499.50 L651.30,499.50 L652.30,499.50 L653.30,499.50 L654.30,499.50 L655.30,499.50 L656.30,499.50 L657.30,499.50 L658.30,499.50 L659.30,499.50 L660.30,499.50 L661.30,499.50 L662.30,499.50 L663.30,499.50 L664.30,499.50 L665.30,499.50 L666.30,499.50 L667.30,499.50 L668.30,499.50 L669.30,499.50 L670.30,499.50 L671.30,499.50 L672.30,499.50 L673.30,499.50 L674.30,499.50 L675.30,499.50 L676.30,499.50 L677.30,499.50 L678.30,499.50 L679.30,499.50 L680.30,499.50 L681.30,499.50 L682.30,499.50 L683.30,499.50 L684.30,499.50 L685.30,499.50 L686.30,499.50 L687.30,499.50 L688.30,499.50 L689.30,499.50 L690.30,499.50 L691.30,499.50 L692.30,499.50 L693.30,499.50 L694.30,499.50 L695.30,499.50 L696.30,499.50 L697.30,499.50 L698.30,499.50 L699.30,499.50 L700.30,499.50 L701.30,499.50 L702.30,499.50 L703.30,499.50 L704.30,499.50 L705.30,499.50 L706.30,499.50 L707.30,499.50 L708.30,499.50 L709.30,499.50 L710.30,499.50 L711.30,499.50 L712.30,499.50 L713.30,499.50 L714.30,499.50 L715.30,499.50 L716.30,499.50 L717.30,499.50 L718.30,499.50 L719.30,499.50 L720.30,499.50 L721.30,499.50 L722.30,499.50 L723.30,499.50 L724.30,499.50 L725.30,499.50 L726.30,499.50 L727.30,499.50 L728.30,499.50 L729.30,499.50 L730.30,499.50 L731.30,499.50 L732.30,499.50 L733.30,499.50 L734.30,499.50 L735.30,499.50 L736.30,499.50 L737.30,499.50 L738.30,499.50 L739.30,499.50 L740.30,499.50 L741.30,499.50 L742.30,499.50 L743.30,499.50 L744.30,499.50 L745.30,499.50 L746.30,499.50 L747.30,499.50 L748.30,499.50 L749.30,499.50 L750.30,499.50 L751.30,499.50 L752.30,499.50 L753.30,499.50 L754.30,499.50 L755.30,499.50 L756.30,499.50 L757.30,499.50 L758.30,499.50 L759.30,499.50 L760.30,499.50 L761.30,499.50 L762.30,499.50 L763.30,499.50 L764.30,499.50 L765.30,499.50 L766.30,499.50 L767.30,499.50 L768.30,499.50 L769.30,499.50 L770.30,499.50 L771.30,499.50 L772.30,499.50 L773.30,499.50 L774.30,499.50 L775.30,499.50 L776.30,499.50 L777.30,499.50 L778.30,499.50 L779.30,499.50" fill="none" stroke="#800080" stroke-width="3.2" stroke-linejoin="round"/>
<path d="M162.30,499.50 L163.30,495.02 L164.30,490.62 L165.30,486.30 L166.30,482.04 L167.31,477.86 L168.33,473.74 L169.35,469.70 L170.37,465.72 L171.39,461.81 L172.42,457.96 L173.45,454.17 L174.48,450.44 L175.51,446.78 L176.54,443.17 L177.57,439.62 L178.60,436.12 L179.62,432.68 L180.64,429.30 L181.66,425.96 L182.68,422.68 L183.69,419.44 L184.70,416.26 L185.70,413.12 L186.70,410.03 L187.70,406.98 L188.70,403.98 L189.70,401.02 L190.70,398.11 L191.70,395.23 L192.70,392.40 L193.70,389.60 L194.70,386.84 L195.70,384.12 L196.70,381.44 L197.70,378.79 L198.70,376.17 L199.70,373.59 L200.70,371.04 L201.70,368.53 L202.70,366.04 L203.70,363.59 L204.70,361.16 L205.70,358.76 L206.70,356.39 L207.70,354.05 L208.70,351.73 L209.70,349.44 L210.70,347.17 L211.70,344.93 L212.70,342.71 L213.70,340.52 L214.70,338.34 L215.70,336.19 L216.70,334.06 L217.70,331.95 L218.70,329.86 L219.70,327.79 L220.70,325.73 L221.70,323.70 L222.70,321.68 L223.70,319.68 L224.70,317.70 L225.70,315.73 L226.70,313.77 L227.70,311.84 L228.70,309.91 L229.70,308.00 L230.70,306.11 L231.70,304.23 L232.69,302.36 L233.67,300.50 L234.65,298.65 L235.63,296.82 L236.61,295.00 L237.58,293.19 L238.55,291.39 L239.52,289.60 L240.49,287.82 L241.46,286.05 L242.43,284.29 L243.40,282.54 L244.38,280.80 L245.36,279.07 L246.34,277.35 L247.32,275.63 L248.31,273.92 L249.30,272.23 L250.30,270.53 L251.30,268.82 L252.30,267.08 L253.30,265.31 L254.30,263.53 L255.30,261.74 L256.30,259.93 L257.30,258.13 L258.30,256.33 L259.30,254.54 L260.30,252.76 L261.30,251.00 L262.30,249.27 L263.30,247.52 L264.30,245.77 L265.30,244.01 L266.30,242.28 L267.30,240.56 L268.30,238.89 L269.30,237.26 L270.30,235.69 L271.30,234.15 L272.30,232.61 L273.30,231.07 L274.30,229.55 L275.30,228.03 L276.30,226.52 L277.30,225.01 L278.30,223.51 L279.30,222.03 L280.30,220.54 L281.30,219.07 L282.30,217.60 L283.30,216.15 L284.30,214.70 L285.30,213.26 L286.30,211.83 L287.30,210.40 L288.30,208.99 L289.30,207.59 L290.30,206.21 L291.30,204.85 L292.30,203.51 L293.30,202.19 L294.30,200.89 L295.30,199.61 L296.30,198.34 L297.30,197.08 L298.30,195.84 L299.30,194.60 L300.30,193.37 L301.30,192.15 L302.30,190.94 L303.30,189.74 L304.30,188.56 L305.30,187.40 L306.30,186.26 L307.30,185.13 L308.30,184.03 L309.30,182.95 L310.30,181.90 L311.30,180.88 L312.30,179.88 L313.30,178.90 L314.30,177.94 L315.30,177.00 L316.30,176.07 L317.30,175.16 L318.30,174.26 L319.30,173.37 L320.30,172.49 L321.30,171.64 L322.30,170.80 L323.30,169.99 L324.30,169.19 L325.30,168.41 L326.30,167.65 L327.30,166.91 L328.30,166.18 L329.30,165.46 L330.30,164.74 L331.30,164.06 L332.30,163.39 L333.30,162.76 L334.30,162.15 L335.30,161.57 L336.30,161.01 L337.30,160.49 L338.30,159.99 L339.30,159.53 L340.30,159.09 L341.30,158.71 L342.30,158.36 L343.30,158.07 L344.30,157.82 L345.30,157.60 L346.30,157.43 L347.30,157.29 L348.30,157.17 L349.30,157.09 L350.30,157.03 L351.30,157.00 L352.30,156.98 L353.30,156.99 L354.30,157.04 L355.30,157.13 L356.30,157.25 L357.30,157.41 L358.30,157.61 L359.30,157.84 L360.30,158.11 L361.30,158.42 L362.30,158.76 L363.30,159.15 L364.30,159.57 L365.30,160.04 L366.30,160.54 L367.30,161.08 L368.30,161.66 L369.30,162.28 L370.30,162.95 L371.30,163.65 L372.30,164.39 L373.30,165.17 L374.30,166.00 L375.30,166.86 L376.30,167.77 L377.30,168.71 L378.30,169.70 L379.30,170.73 L380.30,171.80 L381.30,172.90 L382.30,174.03 L383.30,175.20 L384.30,176.40 L385.30,177.64 L386.30,178.92 L387.30,180.23 L388.30,181.58 L389.30,182.97 L390.30,184.40 L391.30,185.88 L392.30,187.40 L393.30,188.96 L394.30,190.57 L395.30,192.22 L396.30,193.91 L397.30,195.64 L398.30,197.40 L399.30,199.21 L400.30,201.06 L401.30,202.95 L402.30,204.88 L403.30,206.85 L404.30,208.87 L405.30,210.94 L406.30,213.04 L407.30,215.18 L408.30,217.36 L409.30,219.56 L410.30,221.80 L411.30,224.08 L412.30,226.38 L413.30,228.72 L414.30,231.08 L415.30,233.48 L416.30,235.90 L417.30,238.36 L418.30,240.84 L419.30,243.35 L420.30,245.88 L421.30,248.44 L422.30,251.02 L423.30,253.63 L424.30,256.26 L425.30,258.91 L426.30,261.58 L427.30,264.27 L428.30,266.99 L429.30,269.71 L430.30,272.46 L431.30,275.22 L432.30,278.00 L433.30,280.79 L434.30,283.59 L435.30,286.41 L436.30,289.23 L437.30,292.07 L438.30,294.92 L439.30,297.77 L440.30,300.63 L441.30,303.50 L442.30,306.37 L443.30,309.24 L444.30,312.12 L445.30,315.00 L446.32,317.88 L447.36,320.76 L448.41,323.64 L449.47,326.51 L450.54,329.39 L451.61,332.25 L452.68,335.11 L453.73,337.97 L454.78,340.82 L455.81,343.65 L456.83,346.48 L457.85,349.30 L458.87,352.11 L459.89,354.90 L460.91,357.68 L461.93,360.44 L462.95,363.19 L463.96,365.93 L464.98,368.64 L465.99,371.34 L467.01,374.02 L468.02,376.67 L469.03,379.31 L470.04,381.93 L471.05,384.52 L472.06,387.08 L473.07,389.61 L474.08,392.10 L475.09,394.56 L476.10,397.00 L477.11,399.40 L478.12,401.78 L479.13,404.13 L480.14,406.45 L481.15,408.76 L482.16,411.03 L483.17,413.28 L484.17,415.49 L485.18,417.68 L486.19,419.83 L487.19,421.95 L488.20,424.03 L489.20,426.09 L490.20,428.11 L491.20,430.11 L492.19,432.06 L493.16,433.99 L494.13,435.89 L495.09,437.75 L496.04,439.58 L496.99,441.38 L497.94,443.15 L498.88,444.88 L499.83,446.59 L500.79,448.26 L501.73,449.90 L502.67,451.50 L503.61,453.07 L504.54,454.61 L505.48,456.11 L506.42,457.58 L507.37,459.01 L508.33,460.41 L509.30,461.77 L510.30,463.11 L511.30,464.40 L512.30,465.67 L513.30,466.90 L514.30,468.10 L515.30,469.27 L516.30,470.41 L517.30,471.51 L518.30,472.59 L519.30,473.63 L520.30,474.64 L521.30,475.63 L522.30,476.58 L523.30,477.51 L524.30,478.40 L525.30,479.27 L526.30,480.11 L527.30,480.92 L528.30,481.71 L529.30,482.47 L530.30,483.20 L531.30,483.91 L532.30,484.60 L533.30,485.27 L534.30,485.92 L535.30,486.54 L536.30,487.14 L537.30,487.73 L538.30,488.29 L539.30,488.83 L540.30,489.35 L541.30,489.86 L542.30,490.34 L543.30,490.81 L544.30,491.26 L545.30,491.69 L546.30,492.10 L547.30,492.50 L548.30,492.87 L549.30,493.24 L550.30,493.58 L551.30,493.91 L552.30,494.23 L553.30,494.54 L554.30,494.84 L555.30,495.12 L556.30,495.39 L557.30,495.65 L558.30,495.90 L559.30,496.14 L560.30,496.37 L561.30,496.58 L562.30,496.79 L563.30,496.98 L564.30,497.16 L565.30,497.33 L566.30,497.49 L567.30,497.64 L568.30,497.77 L569.30,497.90 L570.30,498.01 L571.30,498.12 L572.30,498.22 L573.30,498.32 L574.30,498.41 L575.30,498.49 L576.30,498.57 L577.30,498.64 L578.30,498.71 L579.30,498.77 L580.30,498.83 L581.30,498.89 L582.30,498.94 L583.30,498.99 L584.30,499.03 L585.30,499.07 L586.30,499.11 L587.30,499.15 L588.30,499.18 L589.30,499.21 L590.30,499.24 L591.30,499.27 L592.30,499.29 L593.30,499.31 L594.30,499.33 L595.30,499.35 L596.30,499.37 L597.30,499.38 L598.30,499.40 L599.30,499.41 L600.30,499.42 L601.30,499.43 L602.30,499.44 L603.30,499.45 L604.30,499.46 L605.30,499.47 L606.30,499.47 L607.30,499.48 L608.30,499.48 L609.30,499.49 L610.30,499.49 L611.30,499.49 L612.30,499.50 L613.30,499.50 L614.30,499.50 L615.30,499.50 L616.30,499.50 L617.30,499.50 L618.30,499.50 L619.30,499.50 L620.30,499.50 L621.30,499.50 L622.30,499.50 L623.30,499.50 L624.30,499.50 L625.30,499.50 L626.30,499.50 L627.30,499.50 L628.30,499.50 L629.30,499.50 L630.30,499.50 L631.30,499.50 L632.30,499.50 L633.30,499.50 L634.30,499.50 L635.30,499.50 L636.30,499.50 L637.30,499.50 L638.30,499.50 L639.30,499.50 L640.30,499.50 L641.30,499.50 L642.30,499.50 L643.30,499.50 L644.30,499.50 L645.30,499.50 L646.30,499.50 L647.30,499.50 L648.30,499.50 L649.30,499.50 L650.30,499.50 L651.30,499.50 L652.30,499.50 L653.30,499.50 L654.30,499.50 L655.30,499.50 L656.30,499.50 L657.30,499.50 L658.30,499.50 L659.30,499.50 L660.30,499.50 L661.30,499.50 L662.30,499.50 L663.30,499.50 L664.30,499.50 L665.30,499.50 L666.30,499.50 L667.30,499.50 L668.30,499.50 L669.30,499.50 L670.30,499.50 L671.30,499.50 L672.30,499.50 L673.30,499.50 L674.30,499.50 L675.30,499.50 L676.30,499.50 L677.30,499.50 L678.30,499.50 L679.30,499.50 L680.30,499.50 L681.30,499.50 L682.30,499.50 L683.30,499.50 L684.30,499.50 L685.30,499.50 L686.30,499.50 L687.30,499.50 L688.30,499.50 L689.30,499.50 L690.30,499.50 L691.30,499.50 L692.30,499.50 L693.30,499.50 L694.30,499.50 L695.30,499.50 L696.30,499.50 L697.30,499.50 L698.30,499.50 L699.30,499.50 L700.30,499.50 L701.30,499.50 L702.30,499.50 L703.30,499.50 L704.30,499.50 L705.30,499.50 L706.30,499.50 L707.30,499.50 L708.30,499.50 L709.30,499.50 L710.30,499.50 L711.30,499.50 L712.30,499.50 L713.30,499.50 L714.30,499.50 L715.30,499.50 L716.30,499.50 L717.30,499.50 L718.30,499.50 L719.30,499.50 L720.30,499.50 L721.30,499.50 L722.30,499.50 L723.30,499.50 L724.30,499.50 L725.30,499.50 L726.30,499.50 L727.30,499.50 L728.30,499.50 L729.30,499.50 L730.30,499.50 L731.30,499.50 L732.30,499.50 L733.30,499.50 L734.30,499.50 L735.30,499.50 L736.30,499.50 L737.30,499.50 L738.30,499.50 L739.30,499.50 L740.30,499.50 L741.30,499.50 L742.30,499.50 L743.30,499.50 L744.30,499.50 L745.30,499.50 L746.30,499.50 L747.30,499.50 L748.30,499.50 L749.30,499.50 L750.30,499.50 L751.30,499.50 L752.30,499.50 L753.30,499.50 L754.30,499.50 L755.30,499.50 L756.30,499.50 L757.30,499.50 L758.30,499.50 L759.30,499.50 L760.30,499.50 L761.30,499.50 L762.30,499.50 L763.30,499.50 L764.30,499.50 L765.30,499.50 L766.30,499.50 L767.30,499.50 L768.30,499.50 L769.30,499.50 L770.30,499.50 L771.30,499.50 L772.30,499.50 L773.30,499.50 L774.30,499.50 L775.30,499.50 L776.30,499.50 L777.30,499.50 L778.30,499.50 L779.30,499.50" fill="none" stroke="#ff0000" stroke-width="3.2" stroke-linejoin="round"/>
<path d="M162.30,499.50 L163.30,495.14 L164.30,490.86 L165.30,486.66 L166.30,482.52 L167.30,478.46 L168.30,474.47 L169.30,470.54 L170.30,466.68 L171.30,462.88 L172.30,459.15 L173.30,455.47 L174.30,451.86 L175.30,448.30 L176.30,444.79 L177.30,441.35 L178.30,437.95 L179.30,434.61 L180.30,431.31 L181.30,428.07 L182.30,424.87 L183.30,421.72 L184.30,418.61 L185.30,415.55 L186.30,412.53 L187.30,409.54 L188.30,406.60 L189.30,403.70 L190.30,400.84 L191.30,398.01 L192.30,395.21 L193.30,392.45 L194.30,389.73 L195.30,387.03 L196.30,384.37 L197.30,381.73 L198.30,379.13 L199.30,376.55 L200.30,374.00 L201.30,371.48 L202.30,368.98 L203.30,366.51 L204.30,364.06 L205.30,361.63 L206.30,359.23 L207.30,356.84 L208.30,354.48 L209.30,352.14 L210.30,349.81 L211.30,347.51 L212.30,345.22 L213.30,342.95 L214.30,340.69 L215.30,338.45 L216.30,336.22 L217.30,334.01 L218.30,331.82 L219.30,329.63 L220.30,327.46 L221.30,325.31 L222.30,323.16 L223.30,321.02 L224.30,318.90 L225.30,316.78 L226.30,314.68 L227.30,312.58 L228.30,310.50 L229.30,308.42 L230.30,306.35 L231.30,304.29 L232.30,302.23 L233.30,300.19 L234.30,298.15 L235.30,296.11 L236.30,294.08 L237.30,292.06 L238.30,290.05 L239.30,288.04 L240.30,286.03 L241.30,284.03 L242.30,282.03 L243.30,280.04 L244.30,278.05 L245.30,276.07 L246.30,274.09 L247.30,272.11 L248.30,270.14 L249.30,268.17 L250.30,266.21 L251.30,264.25 L252.30,262.29 L253.30,260.33 L254.30,258.38 L255.30,256.43 L256.30,254.49 L257.30,252.55 L258.30,250.61 L259.30,248.67 L260.30,246.74 L261.30,244.81 L262.30,242.88 L263.30,240.96 L264.30,239.04 L265.30,237.13 L266.30,235.22 L267.30,233.31 L268.30,231.40 L269.30,229.50 L270.30,227.61 L271.30,225.72 L272.30,223.83 L273.30,221.95 L274.30,220.07 L275.30,218.20 L276.30,216.33 L277.30,214.47 L278.30,212.62 L279.30,210.77 L280.30,208.93 L281.30,207.09 L282.30,205.26 L283.30,203.44 L284.30,201.63 L285.30,199.82 L286.30,198.02 L287.30,196.23 L288.30,194.45 L289.30,192.68 L290.30,190.92 L291.30,189.17 L292.30,187.43 L293.30,185.70 L294.30,183.99 L295.30,182.28 L296.30,180.59 L297.30,178.91 L298.30,177.24 L299.30,175.59 L300.30,173.95 L301.30,172.33 L302.30,170.72 L303.30,169.12 L304.30,167.55 L305.30,165.99 L306.30,164.45 L307.30,162.92 L308.30,161.42 L309.30,159.93 L310.30,158.46 L311.30,157.01 L312.30,155.59 L313.30,154.18 L314.30,152.80 L315.30,151.44 L316.30,150.10 L317.30,148.79 L318.30,147.50 L319.30,146.24 L320.30,145.00 L321.30,143.79 L322.30,142.60 L323.30,141.45 L324.30,140.32 L325.30,139.22 L326.30,138.15 L327.30,137.11 L328.30,136.10 L329.30,135.13 L330.30,134.18 L331.30,133.27 L332.30,132.40 L333.30,131.55 L334.30,130.74 L335.30,129.97 L336.30,129.24 L337.30,128.54 L338.30,127.88 L339.30,127.26 L340.30,126.67 L341.30,126.13 L342.30,125.62 L343.30,125.16 L344.30,124.74 L345.30,124.36 L346.30,124.03 L347.30,123.73 L348.30,123.49 L349.30,123.28 L350.30,123.12 L351.30,123.01 L352.30,122.95 L353.30,122.93 L354.30,122.96 L355.30,123.03 L356.30,123.16 L357.30,123.33 L358.30,123.56 L359.30,123.83 L360.30,124.15 L361.30,124.53 L362.30,124.96 L363.30,125.44 L364.30,125.97 L365.30,126.55 L366.30,127.19 L367.30,127.87 L368.30,128.62 L369.30,129.41 L370.30,130.26 L371.30,131.17 L372.30,132.13 L373.30,133.14 L374.30,134.21 L375.30,135.34 L376.30,136.51 L377.30,137.75 L378.30,139.04 L379.30,140.38 L380.30,141.78 L381.30,143.24 L382.30,144.75 L383.30,146.31 L384.30,147.93 L385.30,149.61 L386.30,151.34 L387.30,153.12 L388.30,154.96 L389.30,156.85 L390.30,158.80 L391.30,160.80 L392.30,162.85 L393.30,164.95 L394.30,167.11 L395.30,169.31 L396.30,171.57 L397.30,173.88 L398.30,176.24 L399.30,178.64 L400.30,181.10 L401.30,183.60 L402.30,186.15 L403.30,188.75 L404.30,191.39 L405.30,194.08 L406.30,196.81 L407.30,199.58 L408.30,202.39 L409.30,205.25 L410.30,208.14 L411.30,211.08 L412.30,214.05 L413.30,217.06 L414.30,220.10 L415.30,223.18 L416.30,226.29 L417.30,229.44 L418.30,232.61 L419.30,235.82 L420.30,239.05 L421.30,242.31 L422.30,245.59 L423.30,248.90 L424.30,252.23 L425.30,255.58 L426.30,258.96 L427.30,262.35 L428.30,265.76 L429.30,269.18 L430.30,272.62 L431.30,276.07 L432.30,279.53 L433.30,283.00 L434.30,286.48 L435.30,289.96 L436.30,293.45 L437.30,296.95 L438.30,300.44 L439.30,303.94 L440.30,307.43 L441.32,310.92 L442.35,314.41 L443.40,317.89 L444.46,321.36 L445.52,324.83 L446.59,328.28 L447.65,331.72 L448.71,335.15 L449.77,338.56 L450.81,341.96 L451.85,345.34 L452.89,348.70 L453.92,352.04 L454.96,355.35 L455.99,358.65 L457.03,361.91 L458.06,365.16 L459.09,368.37 L460.12,371.56 L461.15,374.71 L462.18,377.84 L463.21,380.93 L464.24,383.99 L465.28,387.01 L466.31,390.00 L467.35,392.96 L468.39,395.87 L469.43,398.75 L470.47,401.59 L471.52,404.39 L472.56,407.14 L473.60,409.83 L474.65,412.48 L475.68,415.07 L476.72,417.61 L477.75,420.10 L478.77,422.54 L479.79,424.93 L480.80,427.27 L481.80,429.56 L482.78,431.81 L483.73,434.00 L484.67,436.16 L485.60,438.27 L486.52,440.33 L487.44,442.34 L488.35,444.29 L489.28,446.18 L490.19,448.02 L491.10,449.81 L492.00,451.55 L492.90,453.25 L493.80,454.90 L494.71,456.51 L495.64,458.08 L496.59,459.62 L497.54,461.13 L498.49,462.61 L499.44,464.07 L500.40,465.50 L501.37,466.90 L502.34,468.28 L503.32,469.62 L504.30,470.93 L505.30,472.20 L506.30,473.43 L507.30,474.62 L508.30,475.77 L509.30,476.88 L510.30,477.96 L511.30,479.01 L512.30,480.03 L513.30,481.00 L514.30,481.94 L515.30,482.84 L516.30,483.70 L517.30,484.51 L518.30,485.29 L519.30,486.03 L520.30,486.74 L521.30,487.42 L522.30,488.07 L523.30,488.69 L524.30,489.28 L525.30,489.85 L526.30,490.39 L527.30,490.91 L528.30,491.40 L529.30,491.87 L530.30,492.31 L531.30,492.74 L532.30,493.14 L533.30,493.52 L534.30,493.89 L535.30,494.23 L536.30,494.56 L537.30,494.86 L538.30,495.15 L539.30,495.43 L540.30,495.69 L541.30,495.93 L542.30,496.16 L543.30,496.38 L544.30,496.59 L545.30,496.79 L546.30,496.98 L547.30,497.16 L548.30,497.33 L549.30,497.50 L550.30,497.65 L551.30,497.80 L552.30,497.94 L553.30,498.07 L554.30,498.19 L555.30,498.31 L556.30,498.42 L557.30,498.52 L558.30,498.61 L559.30,498.69 L560.30,498.77 L561.30,498.84 L562.30,498.91 L563.30,498.97 L564.30,499.03 L565.30,499.09 L566.30,499.14 L567.30,499.19 L568.30,499.23 L569.30,499.27 L570.30,499.31 L571.30,499.34 L572.30,499.36 L573.30,499.39 L574.30,499.41 L575.30,499.42 L576.30,499.43 L577.30,499.44 L578.30,499.45 L579.30,499.46 L580.30,499.47 L581.30,499.48 L582.30,499.48 L583.30,499.49 L584.30,499.49 L585.30,499.50 L586.30,499.50 L587.30,499.50 L588.30,499.50 L589.30,499.50 L590.30,499.50 L591.30,499.50 L592.30,499.50 L593.30,499.50 L594.30,499.50 L595.30,499.50 L596.30,499.50 L597.30,499.50 L598.30,499.50 L599.30,499.50 L600.30,499.50 L601.30,499.50 L602.30,499.50 L603.30,499.50 L604.30,499.50 L605.30,499.50 L606.30,499.50 L607.30,499.50 L608.30,499.50 L609.30,499.50 L610.30,499.50 L611.30,499.50 L612.30,499.50 L613.30,499.50 L614.30,499.50 L615.30,499.50 L616.30,499.50 L617.30,499.50 L618.30,499.50 L619.30,499.50 L620.30,499.50 L621.30,499.50 L622.30,499.50 L623.30,499.50 L624.30,499.50 L625.30,499.50 L626.30,499.50 L627.30,499.50 L628.30,499.50 L629.30,499.50 L630.30,499.50 L631.30,499.50 L632.30,499.50 L633.30,499.50 L634.30,499.50 L635.30,499.50 L636.30,499.50 L637.30,499.50 L638.30,499.50 L639.30,499.50 L640.30,499.50 L641.30,499.50 L642.30,499.50 L643.30,499.50 L644.30,499.50 L645.30,499.50 L646.30,499.50 L647.30,499.50 L648.30,499.50 L649.30,499.50 L650.30,499.50 L651.30,499.50 L652.30,499.50 L653.30,499.50 L654.30,499.50 L655.30,499.50 L656.30,499.50 L657.30,499.50 L658.30,499.50 L659.30,499.50 L660.30,499.50 L661.30,499.50 L662.30,499.50 L663.30,499.50 L664.30,499.50 L665.30,499.50 L666.30,499.50 L667.30,499.50 L668.30,499.50 L669.30,499.50 L670.30,499.50 L671.30,499.50 L672.30,499.50 L673.30,499.50 L674.30,499.50 L675.30,499.50 L676.30,499.50 L677.30,499.50 L678.30,499.50 L679.30,499.50 L680.30,499.50 L681.30,499.50 L682.30,499.50 L683.30,499.50 L684.30,499.50 L685.30,499.50 L686.30,499.50 L687.30,499.50 L688.30,499.50 L689.30,499.50 L690.30,499.50 L691.30,499.50 L692.30,499.50 L693.30,499.50 L694.30,499.50 L695.30,499.50 L696.30,499.50 L697.30,499.50 L698.30,499.50 L699.30,499.50 L700.30,499.50 L701.30,499.50 L702.30,499.50 L703.30,499.50 L704.30,499.50 L705.30,499.50 L706.30,499.50 L707.30,499.50 L708.30,499.50 L709.30,499.50 L710.30,499.50 L711.30,499.50 L712.30,499.50 L713.30,499.50 L714.30,499.50 L715.30,499.50 L716.30,499.50 L717.30,499.50 L718.30,499.50 L719.30,499.50 L720.30,499.50 L721.30,499.50 L722.30,499.50 L723.30,499.50 L724.30,499.50 L725.30,499.50 L726.30,499.50 L727.30,499.50 L728.30,499.50 L729.30,499.50 L730.30,499.50 L731.30,499.50 L732.30,499.50 L733.30,499.50 L734.30,499.50 L735.30,499.50 L736.30,499.50 L737.30,499.50 L738.30,499.50 L739.30,499.50 L740.30,499.50 L741.30,499.50 L742.30,499.50 L743.30,499.50 L744.30,499.50 L745.30,499.50 L746.30,499.50 L747.30,499.50 L748.30,499.50 L749.30,499.50 L750.30,499.50 L751.30,499.50 L752.30,499.50 L753.30,499.50 L754.30,499.50 L755.30,499.50 L756.30,499.50 L757.30,499.50 L758.30,499.50 L759.30,499.50 L760.30,499.50 L761.30,499.50 L762.30,499.50 L763.30,499.50 L764.30,499.50 L765.30,499.50 L766.30,499.50 L767.30,499.50 L768.30,499.50 L769.30,499.50 L770.30,499.50 L771.30,499.50 L772.30,499.50 L773.30,499.50 L774.30,499.50 L775.30,499.50 L776.30,499.50 L777.30,499.50 L778.30,499.50 L779.30,499.50" fill="none" stroke="#00ff00" stroke-width="3.2" stroke-linejoin="round"/>
<path d="M640,499.65 H780.0" stroke="#00ff00" stroke-width="3.5" fill="none"/>
<g stroke="#3a3a3a" stroke-width="0.8" fill="none">
<path d="M1.9,499.5 H793.7"/>
<path d="M162.5,34.8 V525.1"/>
<path d="M18.52,499.5 v-3.6 M39.06,499.5 v-3.6 M59.60,499.5 v-6.3 M80.14,499.5 v-3.6 M100.68,499.5 v-3.6 M121.22,499.5 v-3.6 M141.76,499.5 v-3.6 M182.84,499.5 v-3.6 M203.38,499.5 v-3.6 M223.92,499.5 v-3.6 M244.46,499.5 v-3.6 M265.00,499.5 v-6.3 M285.54,499.5 v-3.6 M306.08,499.5 v-3.6 M326.62,499.5 v-3.6 M347.16,499.5 v-3.6 M367.70,499.5 v-6.3 M388.24,499.5 v-3.6 M408.78,499.5 v-3.6 M429.32,499.5 v-3.6 M449.86,499.5 v-3.6 M470.40,499.5 v-6.3 M490.94,499.5 v-3.6 M511.48,499.5 v-3.6 M532.02,499.5 v-3.6 M552.56,499.5 v-3.6 M573.10,499.5 v-6.3 M593.64,499.5 v-3.6 M614.18,499.5 v-3.6 M634.72,499.5 v-3.6 M655.26,499.5 v-3.6 M675.80,499.5 v-6.3 M696.34,499.5 v-3.6 M716.88,499.5 v-3.6 M737.42,499.5 v-3.6 M757.96,499.5 v-3.6 M778.50,499.5 v-6.3 M162.5,518.81 h3.6 M162.5,480.19 h3.6 M162.5,460.88 h3.6 M162.5,441.57 h3.6 M162.5,422.26 h3.6 M162.5,402.95 h6.3 M162.5,383.64 h3.6 M162.5,364.33 h3.6 M162.5,345.02 h3.6 M162.5,325.71 h3.6 M162.5,306.40 h6.3 M162.5,287.09 h3.6 M162.5,267.78 h3.6 M162.5,248.47 h3.6 M162.5,229.16 h3.6 M162.5,209.85 h6.3 M162.5,190.54 h3.6 M162.5,171.23 h3.6 M162.5,151.92 h3.6 M162.5,132.61 h3.6 M162.5,113.30 h6.3 M162.5,93.99 h3.6 M162.5,74.68 h3.6 M162.5,55.37 h3.6 M162.5,36.06 h3.6"/>
</g>
</svg>
</body></html>
